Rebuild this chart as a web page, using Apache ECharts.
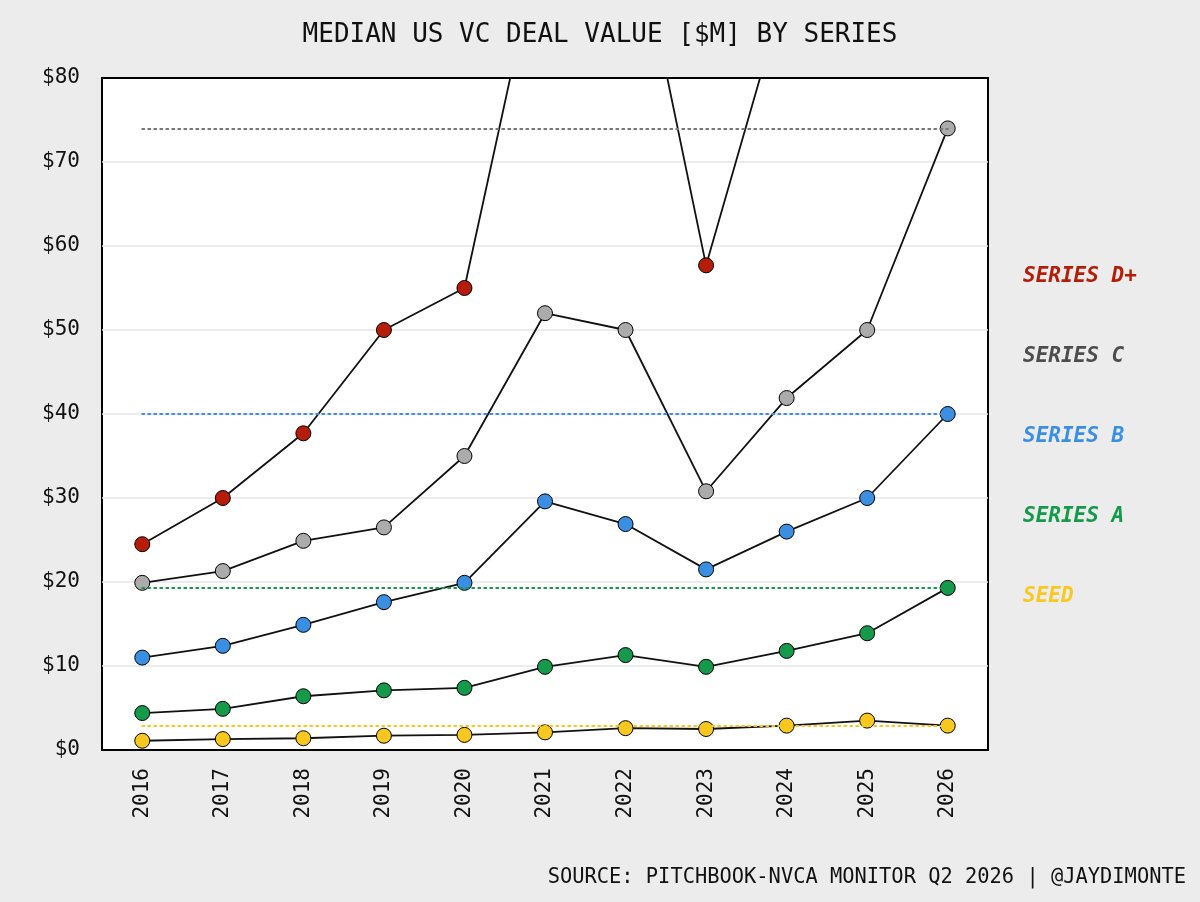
<!DOCTYPE html>
<html><head><meta charset="utf-8">
<script src="https://cdn.jsdelivr.net/npm/echarts@6/dist/echarts.min.js"></script>
<style>html,body{margin:0;padding:0;background:#ececec;}#c{width:1200px;height:902px;}</style>
</head><body><div id="c"></div>
<script>
const years = ['2016','2017','2018','2019','2020','2021','2022','2023','2024','2025','2026'];
const seed    = [1.1, 1.3, 1.4, 1.7, 1.8, 2.1, 2.6, 2.5, 2.9, 3.5, 2.9];
const seriesA = [4.4, 4.9, 6.4, 7.1, 7.4, 9.9, 11.3, 9.9, 11.8, 13.9, 19.3];
const seriesB = [11.0, 12.4, 14.9, 17.6, 19.9, 29.6, 26.9, 21.5, 26.0, 30.0, 40.0];
const seriesC = [19.9, 21.3, 24.9, 26.5, 35.0, 52.0, 50.0, 30.8, 41.9, 50.0, 74.0];
const seriesD = [24.5, 30.0, 37.7, 50.0, 55.0, 99.0, 104.0, 57.7, 91.0, 100.0, 110.0];
const names = ['SERIES D+','SERIES C','SERIES B','SERIES A','SEED'];
const yTicks = [0, 10, 20, 30, 40, 50, 60, 70, 80];
const title = 'MEDIAN US VC DEAL VALUE [$M] BY SERIES';
const source = 'SOURCE: PITCHBOOK-NVCA MONITOR Q2 2026 | @JAYDIMONTE';

const FONT = '"DejaVu Sans Mono", monospace';
const markerColors = ['#b51d08', '#ababab', '#3b8fe3', '#15994a', '#f8c81e'];
const labelColors  = ['#b51d08', '#4d4d4d', '#3b8fe3', '#15994a', '#f8c81e'];
const refColors    = [null, '#777777', '#3b8fe3', '#15994a', '#f8c81e'];
const dataSets = [seriesD, seriesC, seriesB, seriesA, seed];
const splitColors = yTicks.map((t, i) => (i === 0 || i === yTicks.length - 1) ? 'rgba(0,0,0,0)' : '#e6e6e6');

const chart = echarts.init(document.getElementById('c'));
const series = dataSets.map((d, i) => {
  const s = {
    name: names[i], type: 'line', data: d, clip: true,
    symbol: 'circle', symbolSize: 15,
    lineStyle: { color: '#111', width: 1.8 },
    itemStyle: { color: markerColors[i], borderColor: '#000', borderWidth: 1 },
    z: 3, animation: false, silent: true
  };
  if (refColors[i]) {
    const last = d[d.length - 1];
    s.markLine = {
      silent: true, symbol: 'none', animation: false,
      label: { show: false },
      lineStyle: { color: refColors[i], type: [2, 4], width: 2, cap: 'round' },
      data: [[{ coord: [0, last] }, { coord: [years.length - 1, last] }]]
    };
  }
  return s;
});

chart.setOption({
  backgroundColor: '#ececec',
  animation: false,
  title: {
    text: title, left: 'center', top: 17,
    textStyle: { fontFamily: FONT, fontSize: 26, fontWeight: 'normal', color: '#111' }
  },
  grid: {
    left: 102, right: 212, top: 78, bottom: 152,
    show: true, backgroundColor: '#ffffff', borderColor: '#000', borderWidth: 2
  },
  xAxis: {
    type: 'category', data: years, boundaryGap: true,
    axisLine: { show: false }, axisTick: { show: false },
    axisLabel: { rotate: 90, margin: 18, fontFamily: FONT, fontSize: 21, color: '#111' },
    splitLine: { show: false }
  },
  yAxis: {
    type: 'value', min: yTicks[0], max: yTicks[yTicks.length - 1], interval: 10,
    axisLine: { show: false }, axisTick: { show: false },
    axisLabel: { margin: 22, fontFamily: FONT, fontSize: 21, color: '#111', formatter: v => '$' + v },
    splitLine: { show: true, lineStyle: { color: splitColors, width: 1.5 } }
  },
  graphic: names.map((n, i) => ({
    type: 'text', left: 1023, top: 266 + i * 80,
    style: { text: n, fill: labelColors[i], font: 'italic bold 21px ' + FONT }
  })).concat([{
    type: 'text', right: 14, top: 868,
    style: { text: source, fill: '#111', font: '20.4px ' + FONT }
  }]),
  series: series
});
</script></body></html>
